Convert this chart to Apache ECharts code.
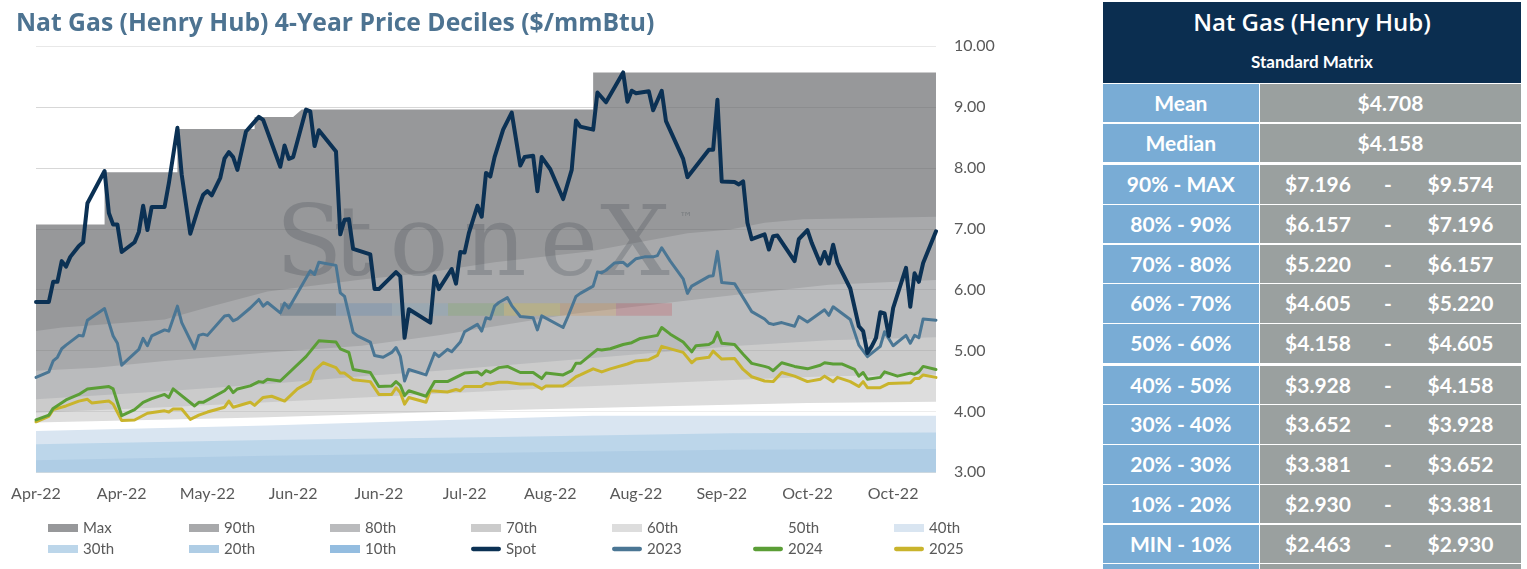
<!DOCTYPE html>
<html>
<head>
<meta charset="utf-8">
<title>Nat Gas (Henry Hub) 4-Year Price Deciles</title>
<script src="https://cdn.jsdelivr.net/npm/echarts/dist/echarts.min.js"></script>
<style>
    html, body {
        margin: 0;
        padding: 0;
        background: #ffffff;
    }

    body {
        position: relative;
        width: 1527px;
        height: 569px;
        overflow: hidden;
        font-family: Lato, "Noto Sans", sans-serif;
    }

    #main {
        position: absolute;
        left: 0;
        top: 0;
        width: 1100px;
        height: 569px;
    }

    #matrix {
        position: absolute;
        left: 1103px;
        top: 2px;
        width: 418px;
        color: #ffffff;
    }

    #matrix .head {
        background: #0b2e50;
        height: 80.7px;
        text-align: center;
    }

    #matrix .head .t1 {
        height: 40px;
        line-height: 40px;
        font-size: 24px;
        font-family: "Open Sans", Lato, sans-serif;
        font-weight: 600;
    }

    #matrix .head .t2 {
        height: 40px;
        line-height: 40px;
        font-size: 17px;
        font-weight: bold;
    }

    #matrix .row {
        display: flex;
        height: 38.4px;
        margin-top: 1.3px;
        line-height: 38.4px;
        font-size: 21px;
        font-weight: bold;
        text-align: center;
    }

    #matrix .row.gap {
        margin-top: 3.3px;
    }

    #matrix .row.stub {
        height: 6px;
    }

    #matrix .lab {
        width: 155.7px;
        background: #79acd5;
    }

    #matrix .val {
        flex: 1;
        margin-left: 1.3px;
        background: #9aa09f;
        display: flex;
    }

    #matrix .val span {
        display: block;
    }

    #matrix .val .lo { width: 116px; }
    #matrix .val .dash { width: 24px; }
    #matrix .val .hi { width: 121px; }
    #matrix .val .one { width: 100%; }
</style>
</head>
<body>
<div id="main"></div>
<div id="matrix"></div>

<script>
    // x positions are day numbers counted from the first date of the chart
    var tickLabels = ['Apr-22', 'Apr-22', 'May-22', 'Jun-22', 'Jun-22', 'Jul-22', 'Aug-22', 'Aug-22', 'Sep-22', 'Oct-22', 'Oct-22'];
    var gridTicks = [4, 5, 6, 7, 8, 9];

    // decile bands (4-year history)
    var pMax = [[0, 7.07], [16, 7.07], [16, 7.93], [33, 7.93], [33, 8.64], [51, 8.64], [51, 8.84], [60, 8.84], [62, 8.96], [130, 8.96], [130, 9.57], [210, 9.57]];
    var p90 = [[0, 5.32], [6, 5.38], [14, 5.42], [30, 5.51], [41, 5.73], [54, 5.97], [76, 6.17], [91, 6.28], [107, 6.45], [129, 6.63], [152, 6.93], [162, 6.99], [170, 7.10], [179, 7.16], [210, 7.20]];
    var p80 = [[0, 4.67], [14, 4.72], [30, 4.83], [54, 4.97], [76, 5.08], [94, 5.25], [125, 5.60], [164, 5.92], [185, 6.08], [210, 6.16]];
    var p70 = [[0, 4.20], [30, 4.33], [54, 4.45], [76, 4.58], [94, 4.67], [125, 4.85], [164, 5.08], [185, 5.17], [210, 5.22]];
    var p60 = [[0, 3.98], [30, 4.07], [54, 4.15], [94, 4.29], [125, 4.40], [164, 4.52], [185, 4.58], [210, 4.605]];
    var p50 = [[0, 3.82], [52, 3.90], [94, 3.99], [108, 4.02], [149, 4.09], [180, 4.14], [210, 4.158]];
    var p40 = [[0, 3.68], [54, 3.77], [106, 3.88], [130, 3.93], [210, 3.928]];
    var p30 = [[0, 3.46], [54, 3.53], [108, 3.58], [162, 3.64], [210, 3.652]];
    var p20 = [[0, 3.20], [54, 3.27], [108, 3.32], [162, 3.37], [210, 3.381]];
    var p10 = [[0, 2.75], [210, 2.93]];

    // price lines
    var spot = [[0, 5.80], [3, 5.80], [4, 6.13], [5, 6.13], [6, 6.47], [7, 6.38], [8, 6.54], [10, 6.72], [11, 6.78], [12, 7.42], [16, 7.95], [17, 7.26], [18, 7.07], [19, 7.07], [20, 6.62], [23, 6.78], [24, 6.95], [25, 7.38], [26, 6.98], [27, 7.36], [30, 7.36], [31, 7.75], [33, 8.66], [34, 7.89], [36, 6.92], [38, 7.37], [39, 7.56], [40, 7.62], [41, 7.55], [43, 7.84], [44, 8.16], [45, 8.26], [46, 8.18], [47, 7.97], [49, 8.60], [50, 8.68], [52, 8.84], [53, 8.79], [57, 8.02], [58, 8.37], [59, 8.15], [60, 8.18], [63, 8.96], [64, 8.93], [65, 8.36], [66, 8.62], [70, 8.27], [71, 6.91], [72, 7.15], [73, 7.16], [74, 6.67], [78, 6.58], [79, 6.01], [80, 6.01], [84, 6.29], [85, 6.22], [86, 5.21], [87, 5.68], [92, 5.46], [93, 6.22], [94, 6.01], [97, 6.34], [98, 6.10], [99, 6.62], [100, 6.61], [101, 6.93], [103, 7.38], [104, 7.20], [105, 7.92], [106, 7.86], [107, 8.18], [109, 8.63], [111, 8.91], [113, 8.04], [114, 8.18], [116, 8.20], [117, 7.62], [118, 8.18], [120, 7.98], [123, 7.49], [125, 7.97], [126, 8.78], [127, 8.68], [130, 8.63], [131, 9.24], [133, 9.08], [137, 9.57], [138, 9.09], [139, 9.27], [140, 9.23], [143, 9.26], [144, 8.95], [146, 9.27], [147, 8.77], [151, 8.15], [152, 7.85], [157, 8.30], [158, 8.30], [159, 9.12], [160, 7.78], [163, 7.77], [164, 7.73], [165, 7.78], [166, 7.10], [167, 6.83], [170, 6.91], [171, 6.66], [172, 6.88], [173, 6.89], [177, 6.47], [178, 6.83], [180, 6.98], [181, 6.77], [183, 6.43], [184, 6.62], [185, 6.43], [186, 6.74], [187, 6.44], [190, 6.02], [192, 5.40], [193, 5.32], [194, 4.96], [195, 5.07], [196, 5.21], [197, 5.63], [198, 5.61], [199, 5.24], [200, 5.70], [203, 6.36], [204, 5.72], [205, 6.27], [206, 6.13], [207, 6.44], [210, 6.96]];
    var y2023 = [[0, 4.56], [3, 4.65], [4, 4.83], [5, 4.89], [6, 5.03], [7, 5.09], [10, 5.25], [11, 5.24], [12, 5.50], [16, 5.69], [18, 5.24], [19, 5.12], [20, 4.76], [24, 5.02], [25, 5.20], [26, 5.08], [27, 5.24], [30, 5.34], [31, 5.32], [33, 5.73], [34, 5.46], [37, 5.03], [38, 5.25], [39, 5.27], [40, 5.25], [44, 5.57], [45, 5.58], [46, 5.49], [47, 5.52], [50, 5.70], [52, 5.84], [53, 5.73], [54, 5.79], [57, 5.62], [58, 5.78], [59, 5.70], [64, 6.31], [65, 6.25], [66, 6.45], [70, 6.40], [71, 5.95], [72, 5.89], [74, 5.30], [75, 5.24], [78, 5.14], [79, 4.92], [81, 4.89], [83, 4.97], [84, 5.05], [85, 4.91], [86, 4.50], [87, 4.69], [91, 4.60], [93, 4.96], [94, 4.90], [96, 5.02], [97, 4.98], [99, 5.14], [100, 5.31], [103, 5.43], [104, 5.32], [105, 5.54], [106, 5.52], [107, 5.73], [108, 5.79], [110, 5.87], [111, 5.74], [113, 5.56], [116, 5.54], [117, 5.34], [118, 5.57], [123, 5.38], [124, 5.54], [126, 5.89], [127, 5.94], [130, 6.06], [131, 6.29], [132, 6.28], [133, 6.32], [135, 6.44], [137, 6.45], [138, 6.39], [140, 6.51], [142, 6.54], [144, 6.54], [145, 6.56], [146, 6.69], [148, 6.47], [151, 6.18], [152, 5.94], [153, 6.06], [157, 6.22], [158, 6.23], [159, 6.63], [160, 6.12], [163, 6.10], [165, 5.87], [167, 5.64], [170, 5.52], [171, 5.45], [172, 5.43], [174, 5.46], [177, 5.40], [178, 5.56], [180, 5.47], [184, 5.67], [185, 5.58], [186, 5.72], [190, 5.51], [192, 5.09], [194, 4.90], [197, 5.07], [198, 5.31], [200, 5.08], [203, 5.25], [204, 5.12], [205, 5.25], [206, 5.21], [207, 5.52], [210, 5.50]];
    var y2024 = [[0, 3.86], [3, 3.94], [4, 4.05], [7, 4.19], [10, 4.28], [12, 4.37], [17, 4.41], [18, 4.37], [20, 3.93], [23, 4.03], [25, 4.15], [27, 4.21], [30, 4.28], [31, 4.23], [32, 4.37], [37, 4.09], [38, 4.15], [39, 4.15], [44, 4.34], [45, 4.41], [46, 4.31], [47, 4.37], [50, 4.42], [52, 4.49], [53, 4.48], [54, 4.53], [57, 4.50], [63, 4.90], [66, 5.16], [70, 5.14], [71, 5.03], [73, 4.97], [74, 4.69], [78, 4.64], [80, 4.41], [83, 4.42], [84, 4.49], [85, 4.43], [86, 4.26], [87, 4.34], [91, 4.25], [93, 4.49], [96, 4.49], [98, 4.56], [100, 4.63], [103, 4.65], [104, 4.60], [105, 4.67], [106, 4.64], [108, 4.72], [110, 4.74], [113, 4.64], [116, 4.64], [118, 4.54], [119, 4.63], [123, 4.60], [125, 4.67], [126, 4.79], [127, 4.79], [131, 5.02], [132, 5.01], [134, 5.03], [137, 5.10], [139, 5.13], [141, 5.20], [145, 5.25], [146, 5.38], [148, 5.27], [151, 5.14], [153, 4.98], [154, 5.08], [157, 5.10], [158, 5.14], [159, 5.30], [160, 5.12], [163, 5.10], [165, 4.94], [167, 4.79], [170, 4.74], [171, 4.72], [172, 4.67], [174, 4.80], [177, 4.74], [180, 4.70], [183, 4.76], [184, 4.80], [186, 4.78], [188, 4.78], [191, 4.69], [192, 4.58], [193, 4.64], [194, 4.53], [197, 4.56], [198, 4.65], [201, 4.58], [204, 4.63], [205, 4.61], [206, 4.65], [207, 4.74], [210, 4.69]];
    var y2025 = [[0, 3.83], [3, 3.92], [4, 4.03], [7, 4.09], [10, 4.17], [12, 4.20], [13, 4.14], [17, 4.17], [18, 4.12], [20, 3.85], [23, 3.86], [26, 3.97], [30, 4.01], [31, 3.99], [32, 4.04], [34, 4.04], [36, 3.87], [38, 3.94], [40, 3.99], [44, 4.07], [45, 4.17], [46, 4.07], [47, 4.09], [50, 4.15], [51, 4.10], [53, 4.23], [55, 4.25], [58, 4.17], [61, 4.37], [64, 4.49], [65, 4.67], [67, 4.80], [70, 4.72], [71, 4.63], [72, 4.63], [74, 4.52], [78, 4.49], [80, 4.28], [83, 4.28], [84, 4.39], [85, 4.31], [86, 4.12], [87, 4.23], [91, 4.15], [92, 4.34], [96, 4.32], [97, 4.34], [98, 4.36], [99, 4.34], [100, 4.41], [104, 4.41], [105, 4.46], [106, 4.45], [108, 4.48], [110, 4.48], [113, 4.45], [116, 4.45], [118, 4.37], [119, 4.42], [123, 4.42], [124, 4.46], [126, 4.57], [127, 4.60], [130, 4.70], [132, 4.65], [134, 4.70], [138, 4.78], [140, 4.83], [143, 4.85], [145, 4.92], [146, 5.07], [151, 4.97], [153, 4.80], [154, 4.86], [157, 4.89], [158, 4.99], [160, 4.86], [163, 4.87], [165, 4.69], [167, 4.57], [170, 4.50], [172, 4.49], [174, 4.64], [177, 4.58], [180, 4.49], [183, 4.53], [184, 4.58], [186, 4.49], [187, 4.56], [190, 4.49], [192, 4.41], [193, 4.49], [194, 4.39], [197, 4.39], [199, 4.46], [204, 4.47], [205, 4.54], [206, 4.54], [207, 4.60], [210, 4.56]];

    var bandNames = ['Max', '90th', '80th', '70th', '60th', '50th', '40th', '30th', '20th', '10th'];
    var bandData = [pMax, p90, p80, p70, p60, p50, p40, p30, p20, p10];
    var bandColors = ['#97989a', '#a8a9ab', '#babbbd', '#cbcbcb', '#dddddd', '#ffffff', '#d9e5f1', '#bcd6ea', '#afcde5', '#94bde0'];

    var lineNames = ['Spot', '2023', '2024', '2025'];
    var lineData = [spot, y2023, y2024, y2025];
    var lineColors = ['#0b3154', '#4a7694', '#5b9e36', '#c9b42c'];
    var lineWidths = [4, 3, 3, 3];

    var legendOrder = ['Max', '90th', '80th', '70th', '60th', '50th', '40th', '30th', '20th', '10th', 'Spot', '2023', '2024', '2025'];

    // right hand table
    var statLabels = ['Mean', 'Median'];
    var statValues = [4.708, 4.158];
    var rangeLabels = ['90% - MAX', '80% - 90%', '70% - 80%', '60% - 70%', '50% - 60%', '40% - 50%', '30% - 40%', '20% - 30%', '10% - 20%', 'MIN - 10%'];
    var rangeLow = [7.196, 6.157, 5.220, 4.605, 4.158, 3.928, 3.652, 3.381, 2.930, 2.463];
    var rangeHigh = [9.574, 7.196, 6.157, 5.220, 4.605, 4.158, 3.928, 3.652, 3.381, 2.930];

    var wmBarColors = ['#0d3154', '#3d78b8', '#6fa3c8', '#6aa84f', '#e5c51c', '#e08a2c', '#c2323f'];

    var FONT = 'Lato, "Noto Sans", sans-serif';
    var lineIcon = 'path://M2.5,0L32.5,0A2.5,2.5,0,0,1,32.5,5L2.5,5A2.5,2.5,0,0,1,2.5,0Z';

    function money(v) {
        return '$' + v.toFixed(3);
    }

    // ---------- table ----------
    var html = '<div class="head"><div class="t1">Nat Gas (Henry Hub)</div><div class="t2">Standard Matrix</div></div>';
    statLabels.forEach(function (l, i) {
        html += '<div class="row"><div class="lab">' + l + '</div><div class="val"><span class="one">' + money(statValues[i]) + '</span></div></div>';
    });
    rangeLabels.forEach(function (l, i) {
        var cls = (i === 0 || i === 5) ? 'row gap' : 'row';
        html += '<div class="' + cls + '"><div class="lab">' + l + '</div><div class="val">' +
            '<span class="lo">' + money(rangeLow[i]) + '</span><span class="dash">-</span>' +
            '<span class="hi">' + money(rangeHigh[i]) + '</span></div></div>';
    });
    html += '<div class="row stub"><div class="lab"></div><div class="val"></div></div>';
    document.getElementById('matrix').innerHTML = html;

    // ---------- chart ----------
    var series = [];
    bandNames.forEach(function (n, i) {
        var s = {
            name: n,
            type: 'line',
            data: bandData[i],
            symbol: 'none',
            silent: true,
            z: 1,
            lineStyle: {width: 0},
            itemStyle: {color: bandColors[i]},
            areaStyle: {color: bandColors[i], opacity: 1, origin: 'start'}
        };
        if (i === bandNames.length - 1) {
            s.markLine = {
                z: 2,
                silent: true,
                symbol: 'none',
                label: {show: false},
                lineStyle: {color: 'rgba(0,0,0,0.07)', width: 1, type: 'solid'},
                data: gridTicks.map(function (t) { return {yAxis: t}; })
            };
        }
        series.push(s);
    });
    // draw 2025 first so that Spot ends on top
    for (var k = lineNames.length - 1; k >= 0; k--) {
        series.push({
            name: lineNames[k],
            type: 'line',
            data: lineData[k],
            symbol: 'none',
            z: 4,
            itemStyle: {color: lineColors[k]},
            lineStyle: {width: lineWidths[k], color: lineColors[k], join: 'round', cap: 'round'}
        });
    }

    var legends = [];
    for (var c = 0; c < 7; c++) {
        legends.push({
            orient: 'vertical',
            left: 43 + 141 * c,
            top: 515,
            itemWidth: 30,
            itemHeight: 8,
            itemGap: 5,
            selectedMode: false,
            itemStyle: {borderWidth: 0},
            textStyle: {fontFamily: FONT, fontSize: 15, color: '#595959', lineHeight: 16},
            data: [legendOrder[c], legendOrder[c + 7]].map(function (n) {
                return {name: n, icon: lineNames.indexOf(n) >= 0 ? lineIcon : 'rect'};
            })
        });
    }

    // StoneX watermark
    var wmLetters = [['S', 309], ['t', 353], ['o', 419], ['n', 495], ['e', 569], ['X', 635]];
    var graphics = wmLetters.map(function (p) {
        return {
            type: 'text', x: p[1], y: 250, z: 3, silent: true,
            style: {text: p[0], font: '98px "DejaVu Serif"', fill: 'rgba(60,68,76,0.24)', align: 'center', verticalAlign: 'middle'}
        };
    });
    graphics.push({
        type: 'text', x: 686, y: 218, z: 3, silent: true,
        style: {text: '™', font: '14px "DejaVu Sans"', fill: 'rgba(60,68,76,0.3)', align: 'center', verticalAlign: 'middle'}
    });
    wmBarColors.forEach(function (col, i) {
        graphics.push({
            type: 'rect', z: 3, silent: true,
            shape: {x: 280 + 56 * i, y: 303.3, width: 56, height: 12.4},
            style: {fill: col, opacity: 0.22}
        });
    });

    var myChart = echarts.init(document.getElementById('main'), null, {renderer: 'canvas'});
    var option = {
        animation: false,
        backgroundColor: '#ffffff',
        title: {
            text: 'Nat Gas (Henry Hub) 4-Year Price Deciles ($/mmBtu)',
            left: 11,
            top: 6,
            textStyle: {fontFamily: '"Open Sans", Lato, sans-serif', fontWeight: 'bold', fontSize: 24.7, color: '#4d7391'}
        },
        grid: {left: 36, right: 164, top: 46.3, bottom: 96.7, containLabel: false, outerBoundsMode: 'none'},
        xAxis: {
            type: 'value',
            min: 0,
            max: 210,
            interval: 20,
            axisLine: {show: false},
            axisTick: {show: false},
            splitLine: {show: false},
            axisLabel: {
                color: '#595959',
                fontFamily: FONT,
                fontSize: 16,
                margin: 14,
                showMaxLabel: false,
                alignMinLabel: 'center',
                formatter: function (v) {
                    var lbl = tickLabels[v / 20];
                    return lbl === undefined ? '' : lbl;
                }
            }
        },
        yAxis: {
            type: 'value',
            position: 'right',
            min: 3,
            max: 10,
            interval: 1,
            axisLine: {show: false},
            axisTick: {show: false},
            splitLine: {lineStyle: {color: '#e8e8e8', width: 1}},
            axisLabel: {
                color: '#595959',
                fontFamily: FONT,
                fontSize: 16,
                margin: 18,
                verticalAlignMinLabel: 'middle',
                verticalAlignMaxLabel: 'middle',
                formatter: function (v) { return v.toFixed(2); }
            }
        },
        legend: legends,
        graphic: graphics,
        series: series
    };

    myChart.setOption(option);
</script>
</body>
</html>
